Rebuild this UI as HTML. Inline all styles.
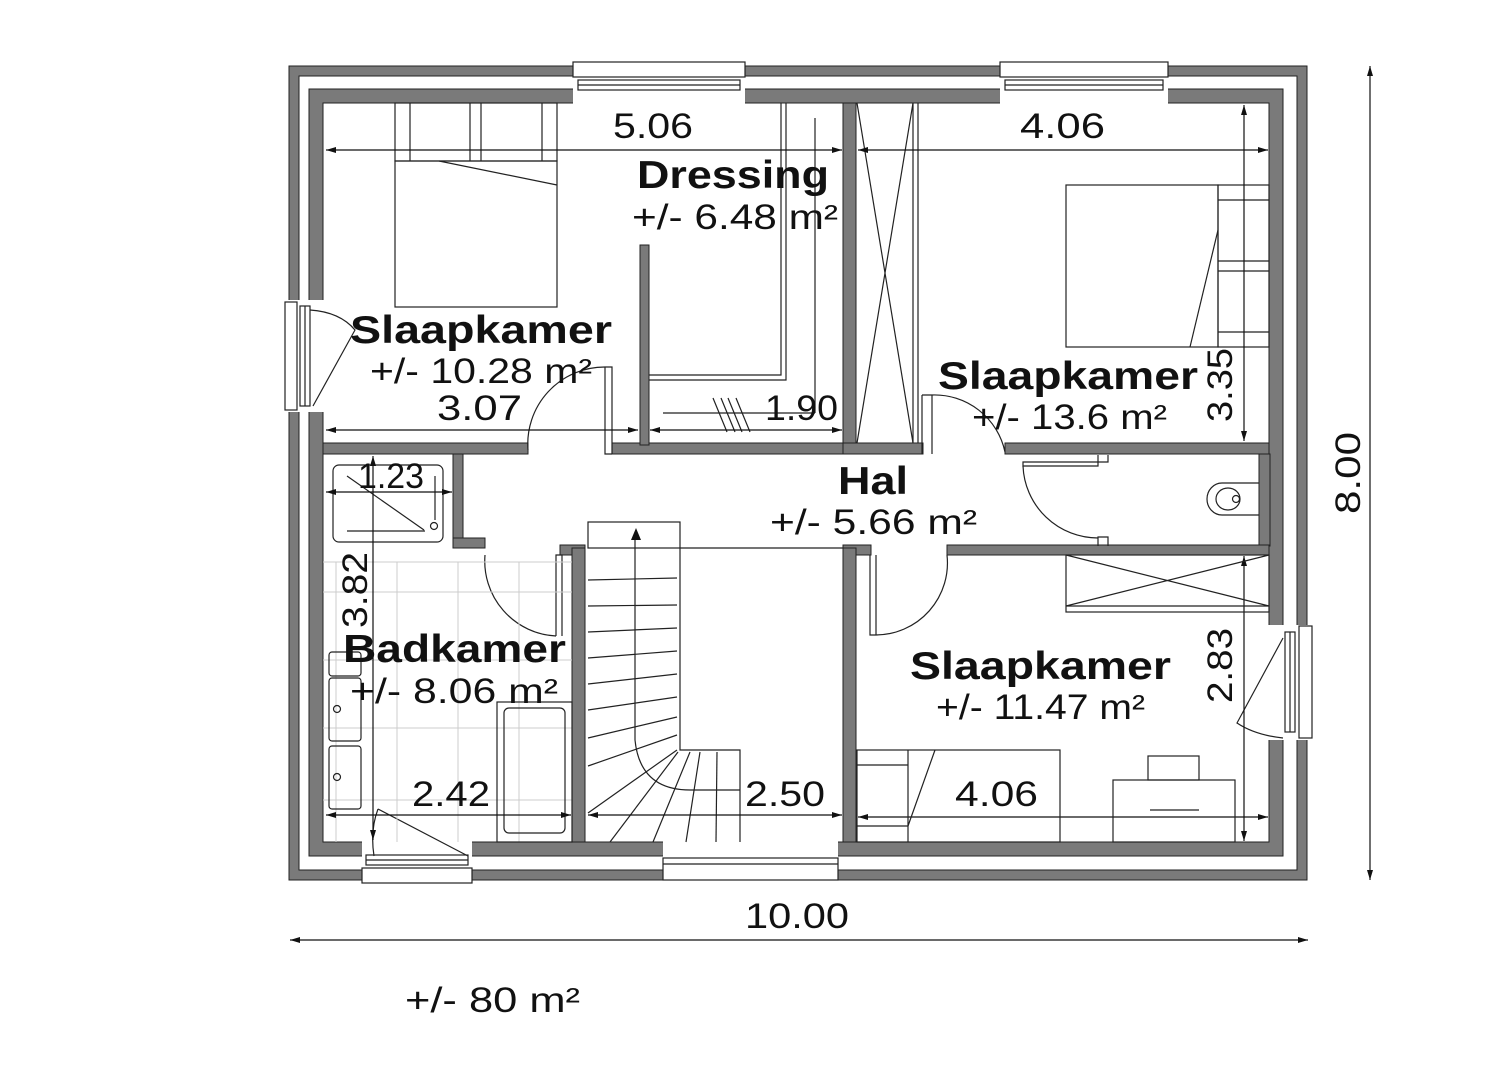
<!DOCTYPE html>
<html><head><meta charset="utf-8"><style>
html,body{margin:0;padding:0;background:#fff;}
svg{display:block;}
text{font-family:"Liberation Sans",sans-serif;fill:#111;}
.t{font-weight:bold;font-size:39px;}
.a{font-size:35px;}
.d{font-size:35px;}
</style></head><body>
<svg width="1509" height="1067" viewBox="0 0 1509 1067" xmlns="http://www.w3.org/2000/svg">
<defs>
<marker id="ar" viewBox="0 0 10 10" refX="10" refY="5" markerWidth="14" markerHeight="10" orient="auto-start-reverse" markerUnits="userSpaceOnUse"><path d="M0,2 L10,5 L0,8z" fill="#111"/></marker>
</defs>
<g fill="#7a7a7a" stroke="#222" stroke-width="1">
<path fill-rule="evenodd" d="M289,66 H1307 V880 H289Z M299,76 V870 H1297 V76Z"/>
<path fill-rule="evenodd" d="M309,89 H1283 V856 H309Z M323,103 V842 H1269 V103Z"/>
<rect x="843" y="103" width="13" height="340"/>
<rect x="323" y="443" width="205" height="11"/>
<rect x="612" y="443" width="231" height="11"/>
<rect x="640" y="245" width="9" height="200"/>
<rect x="843" y="443" width="80" height="11"/>
<rect x="1005" y="443" width="264" height="11"/>
<rect x="1259" y="454" width="11" height="92"/>
<rect x="947" y="545" width="322" height="10"/>
<rect x="843" y="545" width="28" height="10"/>
<rect x="843" y="548" width="13" height="294"/>
<rect x="453" y="454" width="10" height="94"/>
<rect x="453" y="538" width="32" height="10"/>
<rect x="560" y="545" width="25" height="10"/>
<rect x="572" y="548" width="13" height="294"/>
</g>
<g fill="#fff" stroke="none">
<rect x="573" y="64" width="172" height="40"/>
<rect x="1000" y="64" width="168" height="40"/>
<rect x="287" y="300" width="37" height="112"/>
<rect x="1268" y="625" width="42" height="115"/>
<rect x="362" y="841" width="110" height="41"/>
<rect x="663" y="841" width="175" height="41"/>
</g>
<g fill="none" stroke="#222" stroke-width="1.2">
<rect x="573" y="62" width="172" height="15"/><rect x="578" y="80" width="162" height="10"/><line x1="578" y1="85" x2="740" y2="85"/>
<rect x="1000" y="62" width="168" height="15"/><rect x="1005" y="80" width="158" height="10"/><line x1="1005" y1="85" x2="1163" y2="85"/>
<rect x="285" y="302" width="12" height="108"/><rect x="300" y="306" width="10" height="100"/><line x1="305" y1="306" x2="305" y2="406"/>
<rect x="1299" y="626" width="13" height="112"/><rect x="1285" y="632" width="10" height="100"/><line x1="1290" y1="632" x2="1290" y2="732"/>
<rect x="362" y="868" width="110" height="15"/><rect x="366" y="855" width="102" height="10"/><line x1="366" y1="860" x2="468" y2="860"/>
<rect x="663" y="858" width="175" height="22"/><line x1="663" y1="864" x2="838" y2="864"/>
<path d="M310,310 Q340,312 355,330 L313,406"/>
<path d="M1283,638 L1237,723 Q1255,735 1283,738"/>
<path d="M378,809 L468,856 M378,809 Q370,830 374,856"/>
<path d="M605,367 V454 H612 M605,367 H612 V454"/><path d="M605,367 A77,77 0 0 0 528,450"/>
<path d="M922,395 V454 M932,395 V454 M922,395 H932"/><path d="M932,395 A72,72 0 0 1 1005,452"/>
<path d="M1023,462 H1098 V466 H1023Z"/><path d="M1023,466 A75,75 0 0 0 1098,538"/>
<path d="M1098,455 V462 H1108 V455 M1098,546 V537 H1108 V546"/>
<path d="M485,555 A75,75 0 0 0 556,636 M556,636 V555 H562 V636"/>
<path d="M870,555 V635 H876 V555 M876,635 A72,72 0 0 0 947,555"/>
<rect x="395" y="103" width="162" height="58"/>
<line x1="410" y1="103" x2="410" y2="161"/><line x1="470" y1="103" x2="470" y2="161"/><line x1="481" y1="103" x2="481" y2="161"/><line x1="542" y1="103" x2="542" y2="161"/>
<rect x="395" y="161" width="162" height="146"/>
<line x1="439" y1="161" x2="557" y2="185"/>
<path d="M649,375 H781 V103 M649,380 H786 V103"/>
<line x1="815" y1="118" x2="815" y2="413"/>
<line x1="663" y1="413" x2="815" y2="413"/>
<path d="M713,398 L727,432 M721,398 L735,432 M728,398 L742,432 M736,398 L750,432"/>
<line x1="913" y1="103" x2="913" y2="443"/><line x1="918" y1="103" x2="918" y2="443"/>
<path d="M857,103 L913,443 M913,103 L857,443"/>
<rect x="1066" y="185" width="152" height="162"/>
<rect x="1218" y="185" width="51" height="162"/>
<line x1="1218" y1="200" x2="1269" y2="200"/><line x1="1218" y1="261" x2="1269" y2="261"/><line x1="1218" y1="271" x2="1269" y2="271"/><line x1="1218" y1="332" x2="1269" y2="332"/>
<line x1="1218" y1="230" x2="1190" y2="347"/>
<path d="M1259,483 H1222 A15,16 0 0 0 1222,515 H1259"/>
<ellipse cx="1228" cy="499" rx="12" ry="11"/><circle cx="1236" cy="499" r="3.5"/>
<rect x="333" y="465" width="110" height="77" rx="6"/>
<line x1="347" y1="476" x2="424" y2="530"/>
<line x1="347" y1="531" x2="425" y2="531"/>
<line x1="435" y1="476" x2="435" y2="520"/><circle cx="434" cy="526" r="3.5"/>
<g stroke="#ccc" stroke-width="1">
<line x1="336" y1="562" x2="336" y2="842"/><line x1="397" y1="562" x2="397" y2="842"/><line x1="458" y1="562" x2="458" y2="842"/><line x1="519" y1="562" x2="519" y2="842"/>
<line x1="323" y1="562" x2="572" y2="562"/><line x1="323" y1="592" x2="572" y2="592"/><line x1="323" y1="660" x2="572" y2="660"/><line x1="323" y1="728" x2="572" y2="728"/><line x1="323" y1="800" x2="572" y2="800"/>
</g>
<rect x="497" y="702" width="75" height="140"/><rect x="504" y="708" width="61" height="125" rx="5"/>
<rect x="329" y="678" width="32" height="63" rx="3"/><circle cx="337" cy="709" r="3.5"/>
<rect x="329" y="746" width="32" height="63" rx="3"/><circle cx="337" cy="777" r="3.5"/>
<rect x="329" y="652" width="32" height="24" rx="3"/>
<rect x="588" y="522" width="92" height="26"/>
<path d="M680,548 H843 M680,548 V750 H740 V842"/>
<g>
<line x1="588" y1="580" x2="677" y2="578"/><line x1="588" y1="606" x2="677" y2="605"/><line x1="588" y1="632" x2="677" y2="628"/>
<line x1="588" y1="658" x2="677" y2="651"/><line x1="588" y1="684" x2="677" y2="674"/><line x1="588" y1="710" x2="677" y2="697"/>
<line x1="588" y1="738" x2="677" y2="717"/><line x1="588" y1="766" x2="677" y2="735"/><line x1="588" y1="813" x2="677" y2="750"/>
<line x1="610" y1="842" x2="678" y2="752"/><line x1="653" y1="842" x2="690" y2="752"/><line x1="686" y1="842" x2="700" y2="752"/>
<line x1="716" y1="842" x2="717" y2="752"/>
</g>
<path d="M635,540 V740 Q640,790 690,790 H740"/>
</g>
<path d="M636,528 L631,540 H641Z" fill="#111"/>
<g stroke="#111" stroke-width="1.2" marker-start="url(#ar)" marker-end="url(#ar)">
<line x1="326" y1="150" x2="842" y2="150"/>
<line x1="858" y1="150" x2="1268" y2="150"/>
<line x1="326" y1="430" x2="638" y2="430"/>
<line x1="650" y1="430" x2="842" y2="430"/>
<line x1="1244" y1="105" x2="1244" y2="441"/>
<line x1="326" y1="492" x2="452" y2="492"/>
<line x1="373" y1="456" x2="373" y2="840"/>
<line x1="326" y1="815" x2="571" y2="815"/>
<line x1="588" y1="815" x2="842" y2="815"/>
<line x1="858" y1="817" x2="1268" y2="817"/>
<line x1="1244" y1="556" x2="1244" y2="841"/>
<line x1="290" y1="940" x2="1308" y2="940"/>
<line x1="1370" y1="66" x2="1370" y2="880"/>
</g>
<g fill="none" stroke="#222" stroke-width="1.2">
<rect x="857" y="750" width="203" height="92"/>
<line x1="857" y1="765" x2="908" y2="765"/><line x1="857" y1="826" x2="908" y2="826"/><line x1="908" y1="750" x2="908" y2="842"/>
<line x1="935" y1="750" x2="908" y2="826"/>
<rect x="1148" y="756" width="51" height="24"/><rect x="1113" y="780" width="122" height="62"/>
<line x1="1150" y1="810" x2="1199" y2="810"/>
<rect x="1066" y="555" width="203" height="57"/><line x1="1066" y1="606" x2="1269" y2="606"/>
<path d="M1066,555 L1269,606 M1066,606 L1269,555"/>
</g>
<g lengthAdjust="spacingAndGlyphs">
<text class="t" x="637" y="188" textLength="192" lengthAdjust="spacingAndGlyphs">Dressing</text>
<text class="a" x="632" y="229" textLength="206" lengthAdjust="spacingAndGlyphs">+/- 6.48 m²</text>
<text class="t" x="350" y="343" textLength="262" lengthAdjust="spacingAndGlyphs">Slaapkamer</text>
<text class="a" x="370" y="383" textLength="222" lengthAdjust="spacingAndGlyphs">+/- 10.28 m²</text>
<text class="d" x="437" y="420" textLength="85" lengthAdjust="spacingAndGlyphs">3.07</text>
<text class="d" x="765" y="420" textLength="73" lengthAdjust="spacingAndGlyphs">1.90</text>
<text class="d" x="613" y="138" textLength="80" lengthAdjust="spacingAndGlyphs">5.06</text>
<text class="d" x="1020" y="138" textLength="85" lengthAdjust="spacingAndGlyphs">4.06</text>
<text class="t" x="938" y="389" textLength="260" lengthAdjust="spacingAndGlyphs">Slaapkamer</text>
<text class="a" x="972" y="429" textLength="195" lengthAdjust="spacingAndGlyphs">+/- 13.6 m²</text>
<text class="d" transform="translate(1232,422) rotate(-90)" textLength="74" lengthAdjust="spacingAndGlyphs">3.35</text>
<text class="t" x="838" y="494" textLength="70" lengthAdjust="spacingAndGlyphs">Hal</text>
<text class="a" x="770" y="534" textLength="207" lengthAdjust="spacingAndGlyphs">+/- 5.66 m²</text>
<text class="d" x="358" y="488" textLength="66" lengthAdjust="spacingAndGlyphs">1.23</text>
<text class="d" transform="translate(367,628) rotate(-90)" textLength="76" lengthAdjust="spacingAndGlyphs">3.82</text>
<text class="t" x="343" y="662" textLength="223" lengthAdjust="spacingAndGlyphs">Badkamer</text>
<text class="a" x="350" y="703" textLength="208" lengthAdjust="spacingAndGlyphs">+/- 8.06 m²</text>
<text class="d" x="412" y="806" textLength="78" lengthAdjust="spacingAndGlyphs">2.42</text>
<text class="d" x="745" y="806" textLength="80" lengthAdjust="spacingAndGlyphs">2.50</text>
<text class="t" x="910" y="679" textLength="261" lengthAdjust="spacingAndGlyphs">Slaapkamer</text>
<text class="a" x="936" y="719" textLength="209" lengthAdjust="spacingAndGlyphs">+/- 11.47 m²</text>
<text class="d" transform="translate(1232,703) rotate(-90)" textLength="75" lengthAdjust="spacingAndGlyphs">2.83</text>
<text class="d" x="955" y="806" textLength="83" lengthAdjust="spacingAndGlyphs">4.06</text>
<text class="d" x="745" y="928" textLength="104" lengthAdjust="spacingAndGlyphs">10.00</text>
<text class="d" transform="translate(1360,514) rotate(-90)" textLength="82" lengthAdjust="spacingAndGlyphs">8.00</text>
<text class="a" x="405" y="1012" textLength="175" lengthAdjust="spacingAndGlyphs">+/- 80 m²</text>
</g>
</svg>
</body></html>
